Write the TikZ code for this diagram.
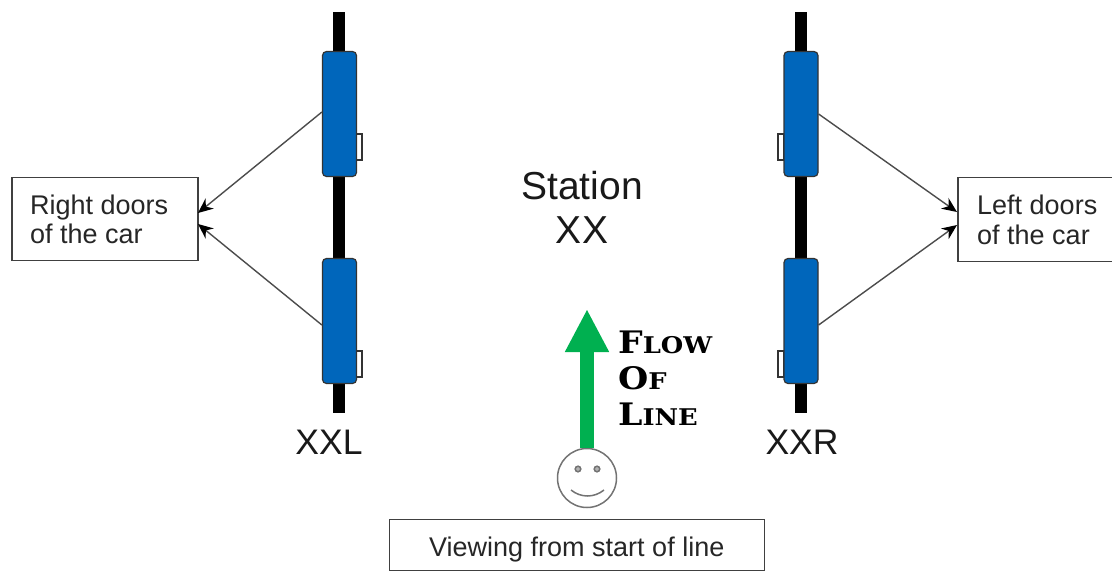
\documentclass[tikz,border=0pt]{standalone}
\usepackage{fontspec}
\setmainfont{Liberation Sans}
\newfontfamily\flowfont[FakeStretch=1.12]{DejaVu Serif}
\usetikzlibrary{arrows.meta}
\definecolor{carblue}{RGB}{0,102,187}
\definecolor{flowgreen}{RGB}{0,176,80}
\tikzset{x=1pt,y=-1pt,
 track/.style={line width=12.5pt,black},
 carbox/.style={draw=black!80,line width=1.2pt,fill=carblue,rounded corners=4pt,minimum width=34pt,inner sep=0pt},
 doorbox/.style={draw=black!80,line width=1.1pt,fill=white,minimum width=6pt,minimum height=26pt,inner sep=0pt},
 labelbox/.style={draw=black!75,line width=1.5pt,fill=white,inner sep=0pt},
 boxtext/.style={inner sep=0pt,text=black!85,font=\fontsize{27}{32}\selectfont,anchor=base west},
 conn/.style={draw=black!70,line width=1.4pt,-{Stealth[length=15pt,width=13pt,black]}},
 big/.style={font=\fontsize{39}{44}\selectfont,inner sep=0pt,text=black!90},
 mid/.style={font=\fontsize{35.5}{42}\selectfont,inner sep=0pt,text=black!90},
 flowtext/.style={inner sep=0pt,anchor=base west,font=\flowfont\bfseries}}
\newcommand{\flowcap}[2]{{\fontsize{31}{36}\selectfont #1}{\fontsize{23}{36}\selectfont #2}}
\begin{document}
\begin{tikzpicture}
\useasboundingbox (0,0) rectangle (1112,571);
% tracks
\coordinate (lt) at (339,12); \coordinate (lb) at (339,413);
\coordinate (rt) at (801,12); \coordinate (rb) at (801,413);
\draw[track] (lt) -- (lb);
\draw[track] (rt) -- (rb);
% doors
\node[doorbox] (d1) at (359,147) {};
\node[doorbox] (d2) at (359,364) {};
\node[doorbox] (d3) at (781,147) {};
\node[doorbox] (d4) at (781,364) {};
% cars
\node[carbox,minimum height=125pt] (c1) at (339.5,114) {};
\node[carbox,minimum height=125pt] (c2) at (339.5,321) {};
\node[carbox,minimum height=125pt] (c3) at (801,114) {};
\node[carbox,minimum height=125pt] (c4) at (801,321) {};
% boxes
\node[labelbox,minimum width=186pt,minimum height=83pt] (rd) at (105,219) {};
\node[labelbox,minimum width=158pt,minimum height=84pt,anchor=west] (ld) at (957,219.5) {};
\node[labelbox,minimum width=375pt,minimum height=51pt] (v) at (577,545) {};
\node[boxtext] (rd1) at (30,214) {Right doors};
\node[boxtext] (rd2) at (30,243) {of the car};
\node[boxtext] (ld1) at (977,214) {Left doors};
\node[boxtext] (ld2) at (977,244) {of the car};
\node[boxtext] (vt) at (429,556) {Viewing from start of line};
\coordinate (rda) at (198,213); \coordinate (rdb) at (198,224);
\coordinate (lda) at (957,212); \coordinate (ldb) at (957,225);
\draw[conn] (c1.west) ++(0,-2) -- (rda);
\draw[conn] (c2.west) ++(0,4) -- (rdb);
\draw[conn] (c3.east) -- (lda);
\draw[conn] (c4.east) ++(0,4) -- (ldb);
% text
\node[big] (st) at (582,186) {Station};
\node[big] (xx) at (582,230) {XX};
\node[mid] (xxl) at (329,442) {XXL};
\node[mid] (xxr) at (802,442) {XXR};
% person
\node[draw=black!55,line width=1.5pt,circle,minimum size=59pt,inner sep=0pt] (face) at (587,478) {};
\coordinate (ar) at (587,309);
\draw[flowgreen,line width=14pt,-{Triangle[length=43pt,width=41pt]}] (face.north) -- (ar);
\draw[black!55,line width=1.5pt,fill=black!30] (578,469) circle (2.8pt) (597,469) circle (2.8pt);
\draw[black!55,line width=1.5pt] (571,490) .. controls (581,498) and (594,498) .. (604,490);
\node[flowtext] (f1) at (618,353) {\flowcap{F}{LOW}};
\node[flowtext] (f2) at (618,389) {\flowcap{O}{F}};
\node[flowtext] (f3) at (618,425) {\flowcap{L}{INE}};
\end{tikzpicture}
\end{document}
